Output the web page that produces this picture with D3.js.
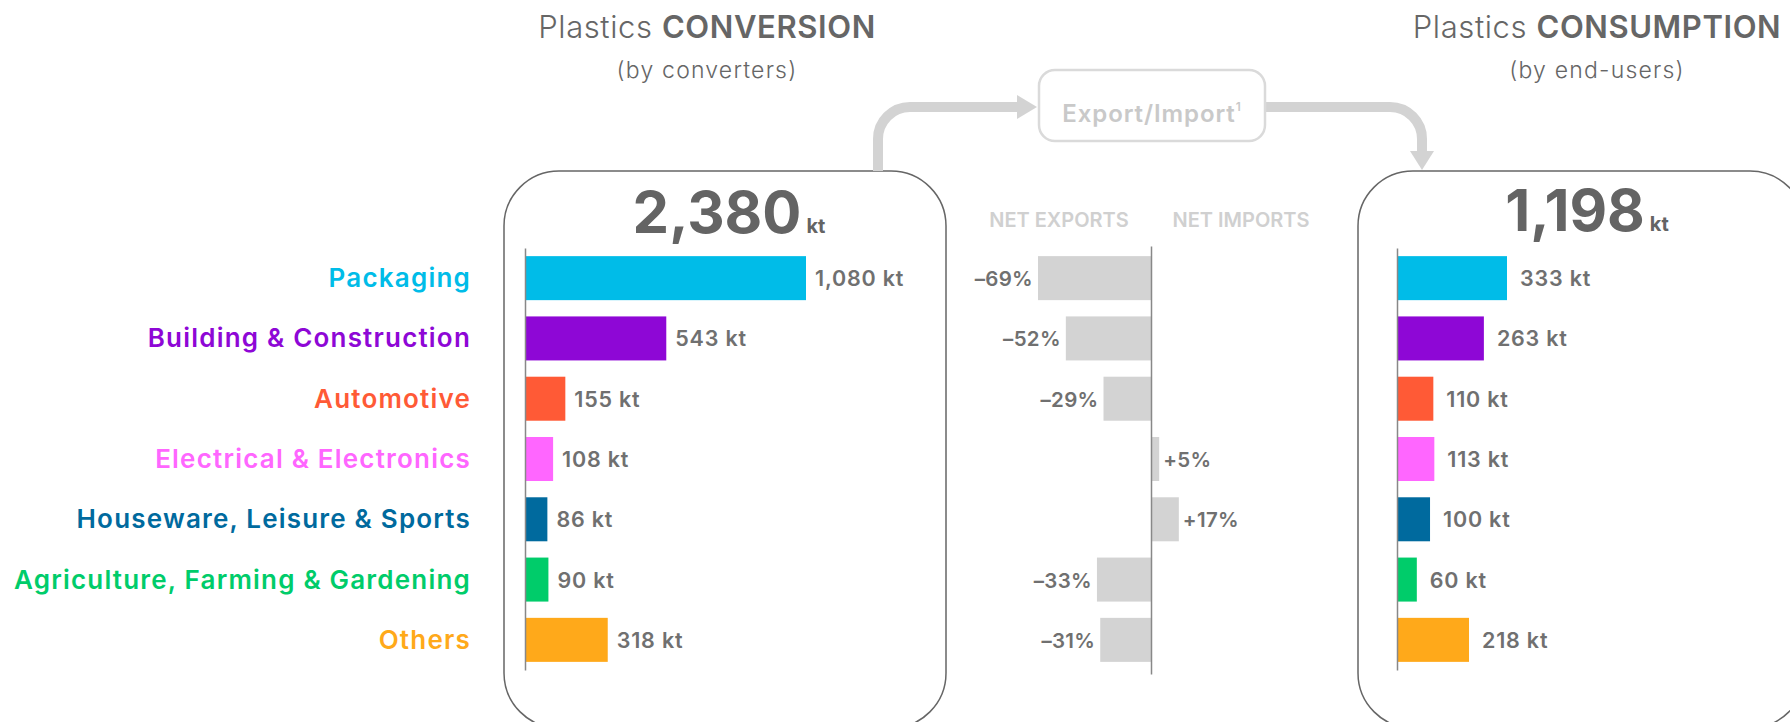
<!DOCTYPE html>
<html>
<head>
<meta charset="utf-8">
<script src="https://cdn.jsdelivr.net/npm/d3@7"></script>
<style>
  html, body { margin: 0; padding: 0; background: #ffffff; }
  svg { display: block; font-family: Inter, "Noto Sans", sans-serif; }
</style>
</head>
<body>
<svg id="chart" width="1790" height="722"></svg>
<script>
// ---------- DATA ----------
const categories = [
  "Packaging",
  "Building & Construction",
  "Automotive",
  "Electrical & Electronics",
  "Houseware, Leisure & Sports",
  "Agriculture, Farming & Gardening",
  "Others"
];
const conversionValues = [1080, 543, 155, 108, 86, 90, 318];   // kt
const consumptionValues = [333, 263, 110, 113, 100, 60, 218];  // kt
const netTradePct = [-69, -52, -29, 5, 17, -33, -31];          // %
const conversionTotal = 2380;
const consumptionTotal = 1198;
const categoryColors = ["#00bce8", "#8e07d6", "#ff5a36", "#ff66ff", "#006a9e", "#00cc6a", "#ffa91a"];

// ---------- SETUP ----------
const svg = d3.select("#chart");
const fmt = d3.format(",");
const labelGray = "#707070";
const darkGray = "#646464";

const y = d3.scaleBand().domain(categories).range([248, 670]).paddingInner(0.27).paddingOuter(0.135);
const xConv = d3.scaleLinear().domain([0, 1080]).range([525, 806]);
const xCons = d3.scaleLinear().domain([0, 333]).range([1397, 1507]);
const xNet = d3.scaleLinear().domain([-69, 0]).range([1038, 1151]);

const rows = categories.map((c, i) => ({
  cat: c, conv: conversionValues[i], cons: consumptionValues[i], net: netTradePct[i], color: categoryColors[i]
}));

// ---------- PANEL BOXES ----------
svg.append("rect").attr("x", 504).attr("y", 171).attr("width", 442).attr("height", 557)
  .attr("rx", 55).attr("fill", "none").attr("stroke", "#666").attr("stroke-width", 1.5);
svg.append("rect").attr("x", 1358).attr("y", 171).attr("width", 447).attr("height", 557)
  .attr("rx", 55).attr("fill", "none").attr("stroke", "#666").attr("stroke-width", 1.5);

// ---------- ARROWS ----------
const arrowColor = "#d3d3d3";
svg.append("path").attr("d", "M878,171 V139 A32,32 0 0 1 910,107 H1018")
  .attr("fill", "none").attr("stroke", arrowColor).attr("stroke-width", 10);
svg.append("path").attr("d", "M1017,95 L1037,107 L1017,119 Z").attr("fill", arrowColor);
svg.append("path").attr("d", "M1265,107 H1390 A32,32 0 0 1 1422,139 V152")
  .attr("fill", "none").attr("stroke", arrowColor).attr("stroke-width", 10);
svg.append("path").attr("d", "M1410,151 L1434,151 L1422,170 Z").attr("fill", arrowColor);

// Export/Import box
svg.append("rect").attr("x", 1039).attr("y", 70).attr("width", 226).attr("height", 71)
  .attr("rx", 16).attr("fill", "#fff").attr("stroke", "#dadada").attr("stroke-width", 2.5);
const ei = svg.append("text").attr("x", 1152).attr("y", 122).attr("text-anchor", "middle")
  .attr("font-size", 24).attr("font-weight", 600).attr("fill", "#c9c9c9").attr("letter-spacing", 0.9);
ei.append("tspan").text("Export/Import");
ei.append("tspan").attr("font-size", 12).attr("dy", -11).text("1");

// ---------- TITLES ----------
function title(cx, bold, sub) {
  const t = svg.append("text").attr("x", cx).attr("y", 38).attr("text-anchor", "middle")
    .attr("font-size", 31).attr("fill", "#666").attr("letter-spacing", 0.6);
  t.append("tspan").attr("font-weight", 300).text("Plastics ");
  t.append("tspan").attr("font-weight", 600).text(bold);
  svg.append("text").attr("x", cx).attr("y", 78).attr("text-anchor", "middle")
    .attr("font-size", 23).attr("font-weight", 300).attr("fill", "#666")
    .attr("letter-spacing", 1.2).text(sub);
}
title(707, "CONVERSION", "(by converters)");
title(1597, "CONSUMPTION", "(by end-users)");

// Big totals
function total(cx, by, value) {
  const t = svg.append("text").attr("x", cx).attr("y", by).attr("text-anchor", "middle")
    .attr("fill", darkGray).attr("font-weight", 700);
  t.append("tspan").attr("font-size", 58).text(fmt(value));
  t.append("tspan").attr("font-size", 20).attr("dx", 5).text("kt");
}
total(729, 233, conversionTotal);
total(1587, 231, consumptionTotal);

// Net headers
svg.append("text").attr("x", 1059).attr("y", 227).attr("text-anchor", "middle")
  .attr("font-size", 20).attr("font-weight", 600).attr("fill", "#d0d0d0").text("NET EXPORTS");
svg.append("text").attr("x", 1241).attr("y", 227).attr("text-anchor", "middle")
  .attr("font-size", 20).attr("font-weight", 600).attr("fill", "#d0d0d0").text("NET IMPORTS");

// ---------- CATEGORY LABELS ----------
svg.append("g").selectAll("text").data(rows).join("text")
  .attr("x", 471).attr("y", d => y(d.cat) + y.bandwidth() / 2 + 9)
  .attr("text-anchor", "end").attr("font-size", 26).attr("font-weight", 600)
  .attr("letter-spacing", 1.2)
  .attr("fill", d => d.color).text(d => d.cat);

// ---------- LEFT BARS: CONVERSION ----------
const gL = svg.append("g");
gL.selectAll("rect").data(rows).join("rect")
  .attr("x", xConv(0)).attr("y", d => y(d.cat))
  .attr("width", d => xConv(d.conv) - xConv(0)).attr("height", y.bandwidth())
  .attr("fill", d => d.color);
gL.selectAll("text").data(rows).join("text")
  .attr("x", d => xConv(d.conv) + 9).attr("y", d => y(d.cat) + y.bandwidth() / 2 + 8)
  .attr("font-size", 21.5).attr("font-weight", 600).attr("fill", labelGray).attr("letter-spacing", 0.8)
  .text(d => fmt(d.conv) + " kt");
svg.append("g").attr("transform", `translate(${xConv(0)},0)`)
  .call(d3.axisLeft(y).tickSize(0).tickFormat(""))
  .call(g => g.select(".domain").attr("stroke", "#888").attr("stroke-width", 1.5));

// ---------- MIDDLE BARS: NET TRADE ----------
const gM = svg.append("g");
gM.selectAll("rect").data(rows).join("rect")
  .attr("x", d => Math.min(xNet(d.net), xNet(0))).attr("y", d => y(d.cat))
  .attr("width", d => Math.abs(xNet(d.net) - xNet(0))).attr("height", y.bandwidth())
  .attr("fill", "#d3d3d3");
gM.selectAll("text").data(rows).join("text")
  .attr("x", d => d.net < 0 ? xNet(d.net) - 5 : xNet(d.net) + 4)
  .attr("y", d => y(d.cat) + y.bandwidth() / 2 + 8)
  .attr("text-anchor", d => d.net < 0 ? "end" : "start")
  .attr("font-size", 20.5).attr("font-weight", 600).attr("fill", labelGray).attr("letter-spacing", 0.3)
  .text(d => (d.net > 0 ? "+" : "\u2013") + Math.abs(d.net) + "%");
svg.append("g").attr("transform", `translate(${xNet(0)},0)`)
  .call(d3.axisLeft(y.copy().range([246, 674])).tickSize(0).tickFormat(""))
  .call(g => g.select(".domain").attr("stroke", "#888").attr("stroke-width", 1.5));

// ---------- RIGHT BARS: CONSUMPTION ----------
const gR = svg.append("g");
gR.selectAll("rect").data(rows).join("rect")
  .attr("x", xCons(0)).attr("y", d => y(d.cat))
  .attr("width", d => xCons(d.cons) - xCons(0)).attr("height", y.bandwidth())
  .attr("fill", d => d.color);
gR.selectAll("text").data(rows).join("text")
  .attr("x", d => xCons(d.cons) + 13).attr("y", d => y(d.cat) + y.bandwidth() / 2 + 8)
  .attr("font-size", 21.5).attr("font-weight", 600).attr("fill", labelGray).attr("letter-spacing", 0.8)
  .text(d => fmt(d.cons) + " kt");
svg.append("g").attr("transform", `translate(${xCons(0)},0)`)
  .call(d3.axisLeft(y).tickSize(0).tickFormat(""))
  .call(g => g.select(".domain").attr("stroke", "#888").attr("stroke-width", 1.5));
</script>
</body>
</html>
